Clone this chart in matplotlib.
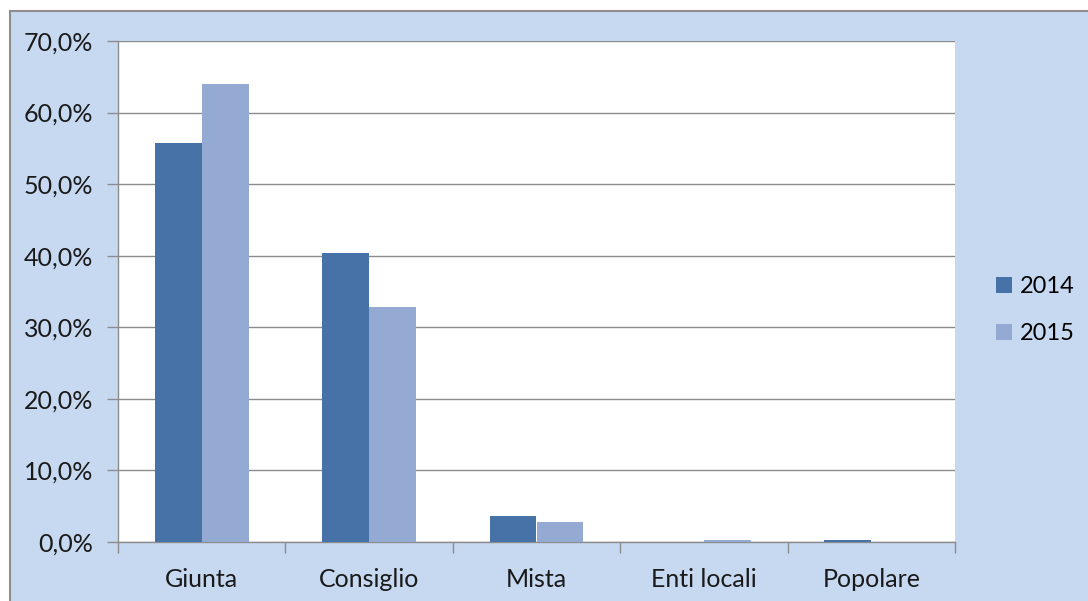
import matplotlib.pyplot as plt
from matplotlib.patches import Rectangle
from matplotlib.ticker import FuncFormatter, MultipleLocator
import numpy as np

categories = ['Giunta', 'Consiglio', 'Mista', 'Enti locali', 'Popolare']
years = ['2014', '2015']
share_2014 = [55.8, 40.4, 3.6, 0.0, 0.3]
share_2015 = [64.0, 32.9, 2.8, 0.3, 0.0]

colors = ['#4672A8', '#95AAD3']
bg = '#C6D9F1'
grid = '#8C8C8C'
fs = 18

plt.rcParams['font.family'] = ['Lato', 'DejaVu Sans']

W, H = 1088, 601
fig = plt.figure(figsize=(W / 100, H / 100), dpi=100)
fig.patch.set_facecolor('white')

# chart area panel with the grey frame on top/left
panel = Rectangle((10 / W, -0.01), 1.01 - 10 / W, 1 - 11 / H + 0.01,
                  transform=fig.transFigure, facecolor=bg,
                  edgecolor='#8E8E8E', linewidth=1.5, zorder=-5)
fig.patches.append(panel)

ax = fig.add_axes([118 / W, 1 - 542 / H, 837 / W, 501 / H])
ax.set_zorder(2)
ax.set_facecolor('white')

x = np.arange(len(categories))
w = 0.28
ax.bar(x - w / 2, share_2014, w, color=colors[0], label=years[0], zorder=3)
ax.bar(x + w / 2, share_2015, w, color=colors[1], label=years[1], zorder=3)

ax.set_xlim(-0.5, len(categories) - 0.5)
ax.set_ylim(0, 70)
ax.yaxis.set_major_locator(MultipleLocator(10))
ax.yaxis.set_major_formatter(FuncFormatter(lambda v, p: f'{v:.1f}%'.replace('.', ',')))
ax.grid(axis='y', color=grid, linewidth=1, zorder=1)

ax.set_xticks(x)
ax.set_xticklabels(categories)
ax.set_xticks(np.arange(-0.5, len(categories)), minor=True)
ax.tick_params(axis='x', which='major', length=0, pad=19, labelsize=fs, colors='#1A1A1A')
ax.tick_params(axis='x', which='minor', length=8, width=1, color=grid, direction='out')
ax.tick_params(axis='y', length=8, width=1, color=grid, labelsize=fs, colors='#1A1A1A', pad=10)

for s in ['top', 'right']:
    ax.spines[s].set_visible(False)
for s in ['left', 'bottom']:
    ax.spines[s].set_color(grid)
    ax.spines[s].set_linewidth(1)

leg = fig.legend(loc='center left', bbox_to_anchor=(975 / W, 1 - 310 / H),
                 frameon=False, fontsize=17, handlelength=0.65, handleheight=0.65,
                 handletextpad=0.35, labelspacing=1.1)

fig.savefig('out.png', dpi=100)
